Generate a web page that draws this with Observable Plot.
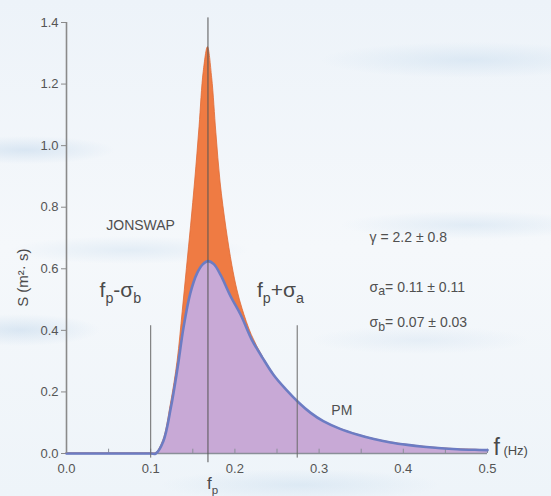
<!DOCTYPE html>
<html><head><meta charset="utf-8">
<script src="https://cdn.jsdelivr.net/npm/d3@7"></script>
<script src="https://cdn.jsdelivr.net/npm/@observablehq/plot@0.6"></script>
<style>
html,body{margin:0;padding:0;width:551px;height:496px;overflow:hidden;}
body{
  background:
    radial-gradient(ellipse 90px 14px at 25px 150px, rgba(170,200,228,.35), transparent),
    radial-gradient(ellipse 80px 16px at 20px 330px, rgba(170,200,228,.35), transparent),
    radial-gradient(ellipse 120px 14px at 130px 250px, rgba(180,208,232,.28), transparent),
    radial-gradient(ellipse 150px 18px at 470px 60px, rgba(180,208,232,.32), transparent),
    radial-gradient(ellipse 130px 14px at 470px 225px, rgba(180,208,232,.3), transparent),
    radial-gradient(ellipse 140px 16px at 300px 485px, rgba(180,208,232,.3), transparent),
    radial-gradient(ellipse 110px 14px at 420px 340px, rgba(190,212,234,.25), transparent),
    linear-gradient(180deg,#edf3f9 0%,#f5f8fb 50%,#eef4f9 100%);
  font-family:"Liberation Sans",Arial,sans-serif;
}
#chart svg{display:block;}
</style></head><body><div id="chart"></div>
<script>
// Pierson-Moskowitz (PM) spectrum
const pmF = [0.0, 0.10, 0.106, 0.115, 0.124, 0.132, 0.139, 0.147, 0.155, 0.162, 0.168, 0.175, 0.183, 0.195, 0.207, 0.22, 0.233, 0.246, 0.26, 0.276, 0.29, 0.305, 0.325, 0.346, 0.365, 0.385, 0.405, 0.424, 0.445, 0.464, 0.485, 0.5];
const pmS = [0.0, 0.0, 0.0, 0.04, 0.15, 0.28, 0.41, 0.52, 0.585, 0.615, 0.625, 0.615, 0.58, 0.51, 0.45, 0.37, 0.31, 0.255, 0.21, 0.165, 0.132, 0.105, 0.08, 0.061, 0.047, 0.036, 0.028, 0.022, 0.017, 0.014, 0.012, 0.011];
// JONSWAP spectrum
const jsF = [0.0, 0.10, 0.106, 0.115, 0.124, 0.132, 0.138, 0.143, 0.148, 0.153, 0.158, 0.163, 0.168, 0.173, 0.178, 0.183, 0.19, 0.197, 0.203, 0.209, 0.22, 0.233, 0.246, 0.26, 0.276, 0.29, 0.305, 0.325, 0.346, 0.365, 0.385, 0.405, 0.424, 0.445, 0.464, 0.485, 0.5];
const jsS = [0.0, 0.0, 0.0, 0.042, 0.16, 0.30, 0.46, 0.60, 0.74, 0.89, 1.06, 1.24, 1.32, 1.22, 1.04, 0.88, 0.73, 0.61, 0.53, 0.47, 0.385, 0.315, 0.258, 0.21, 0.165, 0.132, 0.105, 0.08, 0.061, 0.047, 0.036, 0.028, 0.022, 0.017, 0.014, 0.012, 0.011];

const xTicks = [0, 0.1, 0.2, 0.3, 0.4, 0.5];
const xMinorTicks = [0.05, 0.1, 0.15, 0.2, 0.25, 0.3, 0.35, 0.4, 0.45, 0.5];
const yTicks = [0, 0.2, 0.4, 0.6, 0.8, 1.0, 1.2, 1.4];

const fp = 0.168;
const fpMinusSigmaB = 0.1;
const fpPlusSigmaA = 0.274;

const pm = pmF.map((f, i) => ({f, s: pmS[i]}));
const js = jsF.map((f, i) => ({f, s: jsS[i]}));

// annotation texts (markup: _{..} subscript, ~{..} small)
const labelsBig = [
  {f: 0.064, s: 0.53, t: "f_{p}-σ_{b}"},
  {f: 0.254, s: 0.53, t: "f_{p}+σ_{a}"}
];
const labelsSmall = [
  {f: 0.088, s: 0.74, t: "JONSWAP"},
  {f: 0.327, s: 0.14, t: "PM"}
];
const params = [
  {f: 0.360, s: 0.70, t: "γ = 2.2 ± 0.8"},
  {f: 0.360, s: 0.54, t: "σ_{a}= 0.11 ± 0.11"},
  {f: 0.360, s: 0.425, t: "σ_{b}= 0.07 ± 0.03"}
];

const chart = Plot.plot({
  width: 551,
  height: 496,
  marginLeft: 66,
  marginRight: 64,
  marginTop: 22,
  marginBottom: 43,
  style: {background: "transparent", fontFamily: "'Liberation Sans', Arial, sans-serif", color: "#555"},
  x: {domain: [0, 0.5], ticks: xTicks, tickFormat: d3.format(".1f"), tickSize: 0, tickPadding: 10, label: null},
  y: {domain: [0, 1.4], ticks: yTicks, tickFormat: d3.format(".1f"), tickSize: 5, tickPadding: 3, label: null},
  marks: [
    Plot.areaY(js, {x: "f", y: "s", fill: "#ef7b43", stroke: "#e06a35", strokeWidth: 0.8, curve: "catmull-rom"}),
    Plot.areaY(pm, {x: "f", y: "s", fill: "#c8a9d6", curve: "catmull-rom"}),
    Plot.ruleY([0], {stroke: "#8a8f98", strokeWidth: 1.5}),
    Plot.ruleX(xMinorTicks, {y1: 0, y2: 0.014, stroke: "#8a8f98", strokeWidth: 1}),
    Plot.lineY(pm, {x: "f", y: "s", stroke: "#6c7cc3", strokeWidth: 2.6, curve: "catmull-rom"}),
    Plot.ruleX([0], {y1: 0, y2: 1.4, stroke: "#8a8a8a", strokeWidth: 1.6}),
    Plot.ruleX([fp], {y1: -0.03, y2: 1.415, stroke: "#555", strokeWidth: 1}),
    Plot.ruleX([fpMinusSigmaB, fpPlusSigmaA], {y1: -0.015, y2: 0.415, stroke: "#6a6a6a", strokeWidth: 1}),
    Plot.text(labelsBig, {x: "f", y: "s", text: "t", fontSize: 21, fill: "#4a4a4a", textAnchor: "middle"}),
    Plot.text([{f: 0.1735, s: -0.098}], {x: "f", y: "s", text: () => "f_{p}", fontSize: 17, fill: "#4a4a4a", textAnchor: "middle"}),
    Plot.text(labelsSmall, {x: "f", y: "s", text: "t", fontSize: 14, fill: "#4f4f4f", textAnchor: "middle", letterSpacing: 0.8}),
    Plot.text(params, {x: "f", y: "s", text: "t", fontSize: 14, fill: "#505050", textAnchor: "start", letterSpacing: 0.4}),
    Plot.text([{f: 0.507, s: 0.02}], {x: "f", y: "s", text: () => "f~{ (Hz)}", fontSize: 23, fill: "#4a4a4a", textAnchor: "start"}),
    Plot.text([{f: -0.052, s: 0.571}], {x: "f", y: "s", text: () => "S (m²· s)", fontSize: 15, fill: "#4a4a4a", rotate: -90, textAnchor: "middle", letterSpacing: 0.8})
  ],
  clip: false
});
document.getElementById("chart").appendChild(chart);
d3.select(chart).selectAll("g[aria-label='x-axis tick label'], g[aria-label='y-axis tick label']").attr("font-size", 13).attr("fill", "#555");
d3.select(chart).selectAll("g[aria-label='y-axis tick']").attr("stroke", "#8a8a8a");
chart.style.overflow = "visible";

function richify(svg) {
  d3.select(svg).selectAll("text").each(function() {
    const s = this.textContent;
    if (!/[_~]\{/.test(s)) return;
    const fs = parseFloat(getComputedStyle(this).fontSize);
    const ratio = fs > 15 ? 0.68 : 0.88;
    const el = d3.select(this);
    this.textContent = "";
    const re = /([_~])\{([^}]*)\}|([^_~]+)/g;
    let m, shifted = 0;
    while ((m = re.exec(s))) {
      const t = el.append("tspan");
      if (m[3] !== undefined) {
        t.text(m[3]);
        if (shifted) { t.attr("dy", -shifted); shifted = 0; }
      } else if (m[1] === "_") {
        const d = fs * (fs > 15 ? 0.3 : 0.25);
        t.text(m[2]).attr("font-size", fs * ratio).attr("dy", d - shifted);
        shifted = d;
      } else {
        t.text(m[2]).attr("font-size", 13);
        if (shifted) { t.attr("dy", -shifted); shifted = 0; }
      }
    }
  });
}
richify(chart);
</script>
</body></html>
